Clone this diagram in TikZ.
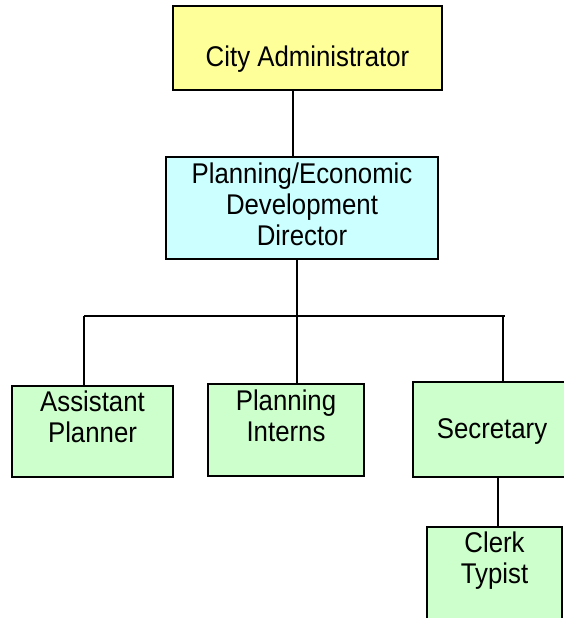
\documentclass[tikz,border=0pt]{standalone}
\usepackage{fontspec}
\setmainfont{Liberation Sans}[FakeStretch=0.905]
\definecolor{admincol}{HTML}{FFFF99}
\definecolor{directorcol}{HTML}{CCFFFF}
\definecolor{staffcol}{HTML}{CCFFCC}
\tikzset{
    every node/.style={rectangle, inner sep=0mm, draw, line width=1.8pt}
}
\tikzset{every label/.style={draw=none, align=center, inner sep=0mm,
    font=\fontsize{28.5}{31}\selectfont}}
\tikzset{link/.style={line width=1.5pt}}

\begin{document}
\begin{tikzpicture}[x=1pt, y=-1pt]
        \useasboundingbox (0,0) rectangle (564,618);
        \clip (0,0) rectangle (564,618);
        \node (admin) [fill=admincol, minimum width=269pt, minimum height=84pt,
                label={[yshift=-11pt]center:{City Administrator}}] at (307.5, 48) {};
        \node (director) [fill=directorcol, minimum width=272pt, minimum height=102pt,
                label={[yshift=3.2pt]center:{Planning/Economic\\Development\\Director}}] at (302, 208) {};
        \node (asst) [fill=staffcol, minimum width=161pt, minimum height=91pt,
                label={[yshift=14.7pt]center:{Assistant\\Planner}}] at (92.5, 431.5) {};
        \node (interns) [fill=staffcol, minimum width=156pt, minimum height=92pt,
                label={[yshift=14.2pt]center:{Planning\\Interns}}] at (286, 430) {};
        \node (secretary) [fill=staffcol, minimum width=152pt, minimum height=95pt,
                label={[xshift=3pt, yshift=-2.3pt]center:{Secretary}}] at (489, 429.5) {};
        \node (clerk) [fill=staffcol, minimum width=135pt, minimum height=113pt,
                label={[yshift=23.2pt]center:{Clerk\\Typist}}] at (494.5, 583.5) {};
        \coordinate (busL) at (84, 316);
        \coordinate (bus) at (297, 316);
        \coordinate (busR) at (505, 316);
        \draw[link] ([xshift=-14.5pt]admin.south) -- ([xshift=-9pt]director.north);
        \draw[link] ([xshift=-5pt]director.south) -- (bus);
        \draw[link] (busL) -- (busR);
        \draw[link] (busL) -- (busL |- asst.north);
        \draw[link] (bus) -- (bus |- interns.north);
        \draw[link] ([xshift=-2pt]busR) -- ([xshift=14pt]secretary.north);
        \draw[link] ([xshift=9pt]secretary.south) -- ([xshift=3.5pt]clerk.north);
\end{tikzpicture}
\end{document}
